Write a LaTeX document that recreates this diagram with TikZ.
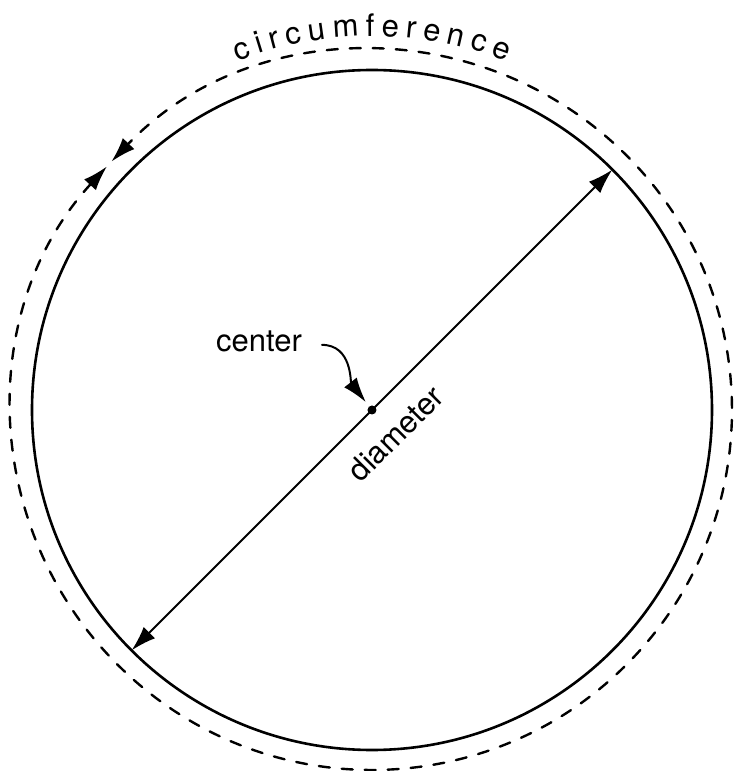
\documentclass[tikz,border=0pt]{standalone}
\usepackage{fontspec}
\setmainfont{TeX Gyre Heros}
\usetikzlibrary{arrows.meta}
\begin{document}
\begin{tikzpicture}[x=0.5pt, y=0.5pt, font=\fontsize{15.5}{18}\selectfont, line join=round, line cap=round,
    >={Latex[length=12.5pt,width=8pt]},
    rim/.style={line width=1.3pt},
    dashrim/.style={line width=1.2pt, dash pattern=on 5.5pt off 6pt},
    dot/.style={circle, fill, inner sep=0pt, minimum size=4.5pt}]
  \def\R{340} \def\r{360} \def\rt{374}
  \useasboundingbox (-372,-361) rectangle (364,410);
  \draw[rim] (0,0) circle (\R);
  \draw[dashrim, <->] (137.4:\r) arc (137.4:496.4:\r);
  \foreach \ch/\a [count=\k] in {c/109.93, i/107.19, r/104.84, c/101.82, u/98.28, m/93.94, f/90.27,
      e/87.26, r/84.11, e/80.96, n/77.29, c/73.74, e/70.20}
    \node[anchor=base, rotate=\a-90, inner sep=0pt] (ltr\k) at (\a:\rt) {\ch};
  \node[dot] (O) at (0,0) {};
  \coordinate (NE) at (45:\R);
  \coordinate (SW) at (225:\R);
  \draw[<->, line width=1pt] (SW) -- node[sloped, below=7pt] (dia) {diameter} (NE);
  \node[anchor=base] (lbl) at (-113,58) {center};
  \draw[->, line width=1pt, shorten >=2.5pt] ([shift={(13,-3)}]lbl.east) to[out=0, in=128] (O);
\end{tikzpicture}
\end{document}
